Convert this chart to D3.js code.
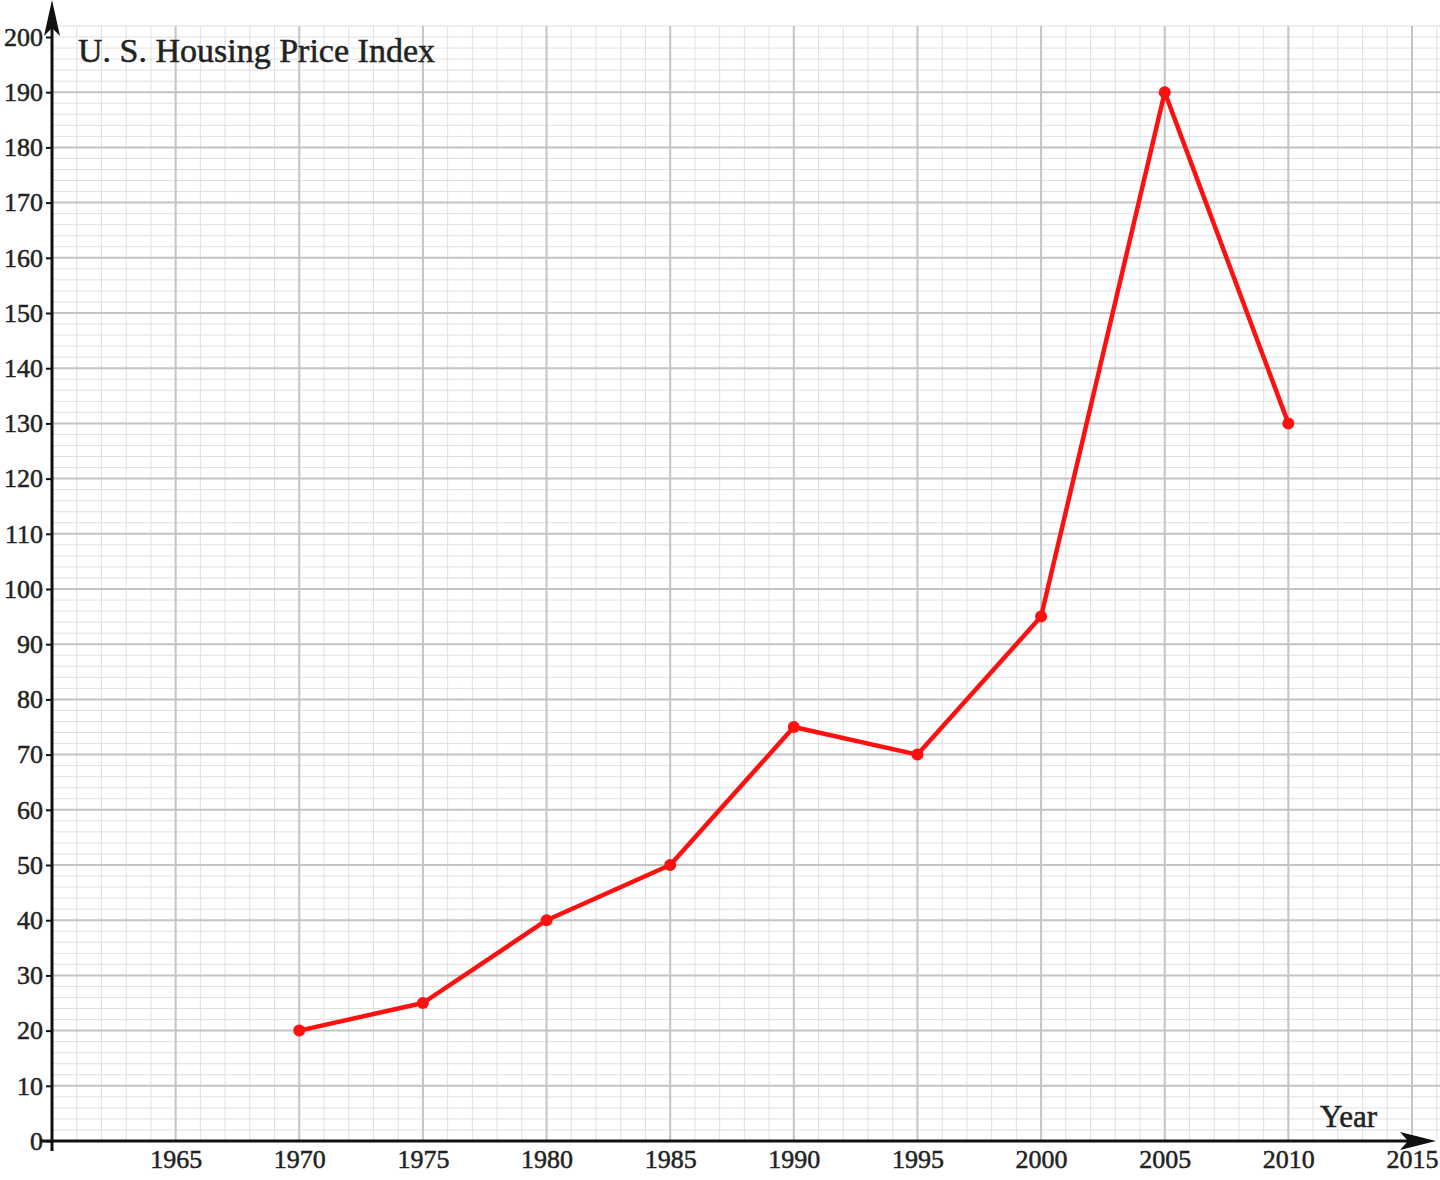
<!DOCTYPE html>
<html>
<head>
<meta charset="utf-8">
<script src="https://cdn.jsdelivr.net/npm/d3@7"></script>
<style>
  html, body { margin: 0; padding: 0; background: #fff; }
  svg { display: block; }
  text { font-family: "Liberation Serif", "DejaVu Serif", serif; fill: #222; stroke: #222; stroke-width: 0.5px; }
</style>
</head>
<body>
<div id="chart"></div>
<script>
// data
var years = [1970, 1975, 1980, 1985, 1990, 1995, 2000, 2005, 2010];
var priceIndex = [20, 25, 40, 50, 75, 70, 95, 190, 130];
var yearTicks = [1965, 1970, 1975, 1980, 1985, 1990, 1995, 2000, 2005, 2010, 2015];
var indexTicks = [0, 10, 20, 30, 40, 50, 60, 70, 80, 90, 100, 110, 120, 130, 140, 150, 160, 170, 180, 190, 200];

var svg_width = 1440;
var svg_height = 1180;

var svg = d3.select("#chart")
    .append("svg")
    .attr("width", svg_width)
    .attr("height", svg_height);

// scales
var x = d3.scaleLinear().domain([1960, 2015]).range([52, 1412]);
var y = d3.scaleLinear().domain([0, 200]).range([1141, 37]);

var gridTop = y(202);
var gridRight = svg_width;

// minor grid (every year / every 2 units)
var minorX = d3.range(1961, 2017);
var minorY = d3.range(2, 203, 2);
svg.append("g").selectAll("line")
    .data(minorX)
    .enter().append("line")
    .attr("x1", function (d) { return x(d); })
    .attr("x2", function (d) { return x(d); })
    .attr("y1", gridTop)
    .attr("y2", y(0))
    .attr("stroke", "#e0e0e0")
    .attr("stroke-width", 1);
svg.append("g").selectAll("line")
    .data(minorY)
    .enter().append("line")
    .attr("x1", x(1960))
    .attr("x2", gridRight)
    .attr("y1", function (d) { return y(d); })
    .attr("y2", function (d) { return y(d); })
    .attr("stroke", "#e0e0e0")
    .attr("stroke-width", 1);

// major grid
svg.append("g").selectAll("line")
    .data(yearTicks)
    .enter().append("line")
    .attr("x1", function (d) { return x(d); })
    .attr("x2", function (d) { return x(d); })
    .attr("y1", gridTop)
    .attr("y2", y(0))
    .attr("stroke", "#c4c4c4")
    .attr("stroke-width", 2);
svg.append("g").selectAll("line")
    .data(indexTicks.filter(function (d) { return d > 0 && d < 200; }))
    .enter().append("line")
    .attr("x1", x(1960))
    .attr("x2", gridRight)
    .attr("y1", function (d) { return y(d); })
    .attr("y2", function (d) { return y(d); })
    .attr("stroke", "#c4c4c4")
    .attr("stroke-width", 2);

// y axis labels
var yAxis = d3.axisLeft(y)
    .tickValues(indexTicks)
    .tickFormat(d3.format("d"))
    .tickSize(6)
    .tickPadding(3);
var gy = svg.append("g")
    .attr("transform", "translate(" + x(1960) + ",0)")
    .call(yAxis);
gy.select(".domain").remove();
gy.selectAll(".tick line").attr("stroke", "#111").attr("stroke-width", 2);
gy.selectAll(".tick text")
    .attr("font-size", 26)
    .attr("font-family", "Liberation Serif, DejaVu Serif, serif")
    .attr("fill", "#222");

// x axis labels
var xAxis = d3.axisBottom(x)
    .tickValues(yearTicks)
    .tickFormat(d3.format("d"))
    .tickSize(0)
    .tickPadding(9);
var gx = svg.append("g")
    .attr("transform", "translate(0," + y(0) + ")")
    .call(xAxis);
gx.select(".domain").remove();
gx.selectAll(".tick text")
    .attr("font-size", 26)
    .attr("font-family", "Liberation Serif, DejaVu Serif, serif")
    .attr("fill", "#222");

// axis lines with arrows
svg.append("line")
    .attr("x1", x(1960)).attr("x2", x(1960))
    .attr("y1", y(0) + 10).attr("y2", 20)
    .attr("stroke", "#111").attr("stroke-width", 3);
svg.append("path")
    .attr("d", "M" + x(1960) + ",0 L" + (x(1960) - 8) + ",36 L" + x(1960) + ",28 L" + (x(1960) + 8) + ",36 Z")
    .attr("fill", "#111");

svg.append("line")
    .attr("x1", x(1960) - 12).attr("x2", 1415)
    .attr("y1", y(0)).attr("y2", y(0))
    .attr("stroke", "#111").attr("stroke-width", 3);
svg.append("path")
    .attr("d", "M1436," + y(0) + " L1400," + (y(0) - 9) + " L1408," + y(0) + " L1400," + (y(0) + 9) + " Z")
    .attr("fill", "#111");

// data line
var line = d3.line()
    .x(function (d, i) { return x(years[i]); })
    .y(function (d) { return y(d); });

svg.append("path")
    .datum(priceIndex)
    .attr("d", line)
    .attr("fill", "none")
    .attr("stroke", "#ff1010")
    .attr("stroke-width", 4.5)
    .attr("stroke-linejoin", "round");

svg.selectAll("circle.pt")
    .data(priceIndex)
    .enter().append("circle")
    .attr("class", "pt")
    .attr("cx", function (d, i) { return x(years[i]); })
    .attr("cy", function (d) { return y(d); })
    .attr("r", 6)
    .attr("fill", "#ff1010");

// title and axis name
svg.append("text")
    .attr("x", 78)
    .attr("y", 62)
    .attr("font-size", 34)
    .text("U. S. Housing Price Index");

svg.append("text")
    .attr("x", 1320)
    .attr("y", 1127)
    .attr("font-size", 31)
    .text("Year");
</script>
</body>
</html>
